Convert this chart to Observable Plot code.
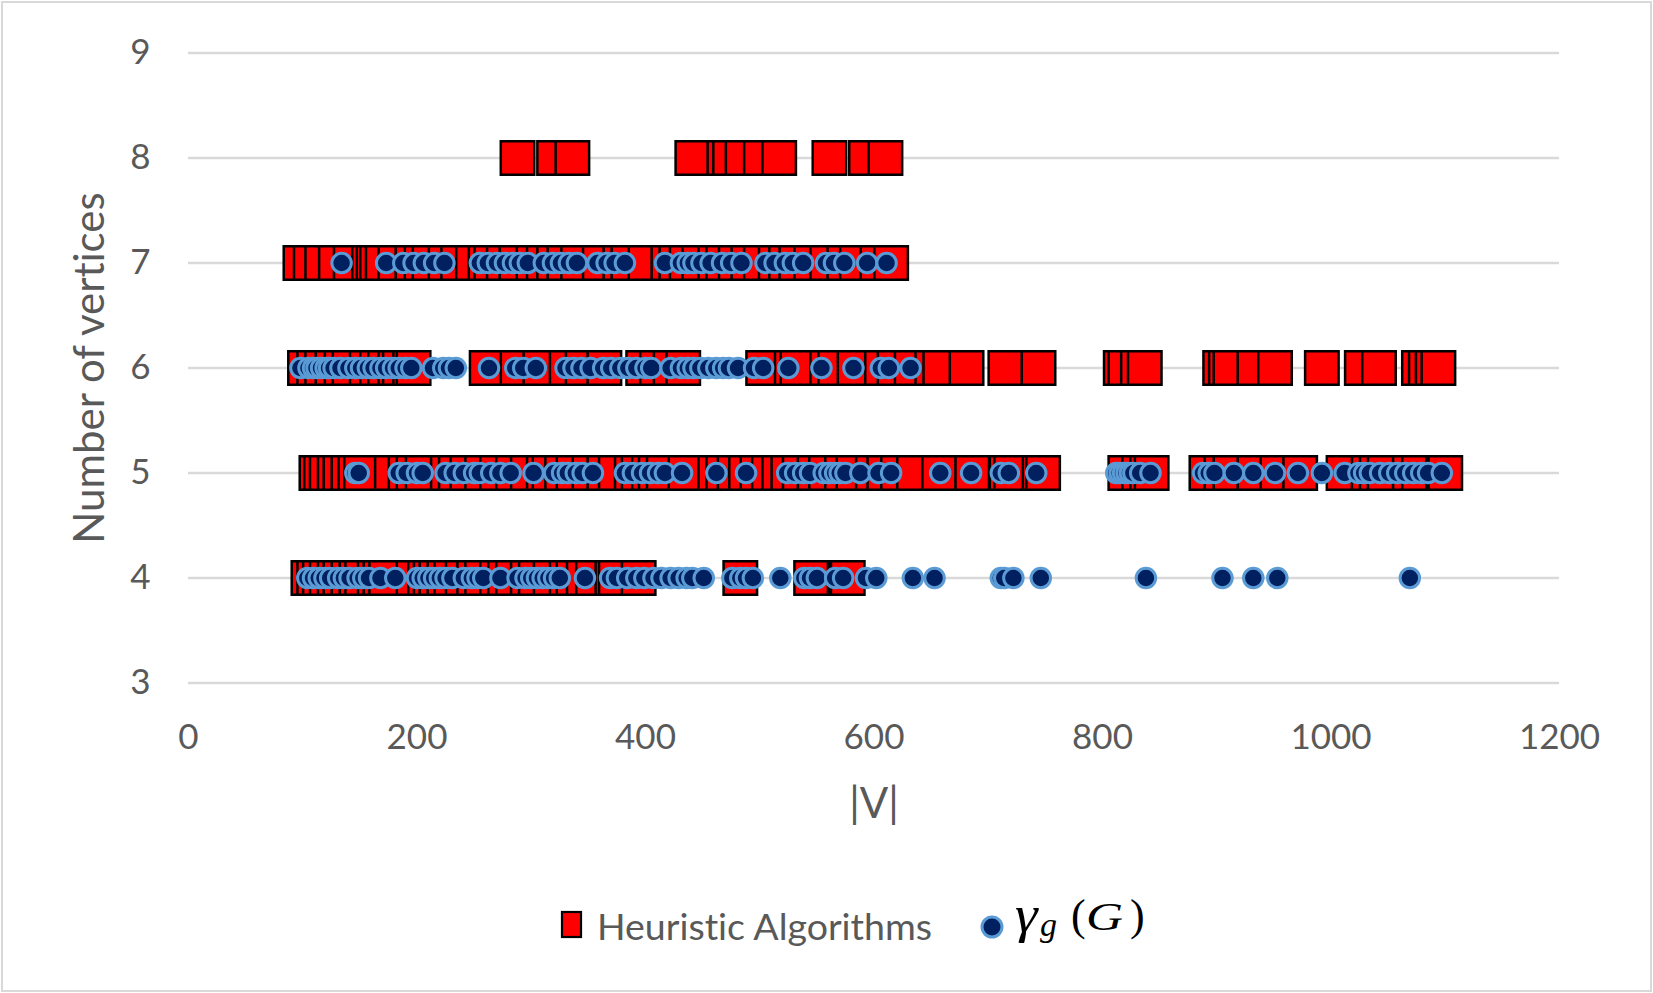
<!DOCTYPE html>
<html>
<head>
<meta charset="utf-8">
<script src="https://cdn.jsdelivr.net/npm/d3@7"></script>
<script src="https://cdn.jsdelivr.net/npm/@observablehq/plot@0.6"></script>
<style>
  html, body { margin: 0; padding: 0; background: #fff; }
  #wrap { position: relative; width: 1653px; height: 993px; background: #fff; overflow: hidden; }
  #border { position: absolute; left: 1px; top: 1px; width: 1647px; height: 987px; border: 2px solid #d9d9d9; }
  #chart { position: absolute; left: 0; top: 0; }
  #legend { position: absolute; left: 0; top: 880px; }
  svg text { font-variant-ligatures: none; font-feature-settings: "liga" 0; }
</style>
</head>
<body>
<div id="wrap">
  <div id="border"></div>
  <div id="chart"></div>
  <svg id="legend" width="1653" height="100" xmlns="http://www.w3.org/2000/svg">
    <rect x="562" y="32" width="19" height="25" fill="#ff0000" stroke="#000" stroke-width="2.2"></rect>
    <text x="597" y="45" dominant-baseline="central" font-family="Lato" font-size="37.5" fill="#595959">Heuristic Algorithms</text>
    <circle cx="992" cy="47" r="10" fill="#002060" stroke="#5b9bd5" stroke-width="3"></circle>
    <text transform="translate(1015,52) scale(1.1,1)" x="0" y="0" font-family="Liberation Serif" font-style="italic" font-size="52" fill="#000">γ</text>
    <text x="1040" y="56" font-family="Liberation Serif" font-style="italic" font-size="34" fill="#000">g</text>
    <text x="1071" y="50" font-family="Liberation Serif" font-size="44" fill="#000">(</text>
    <text transform="translate(1086,50) scale(1.25,1)" x="0" y="0" font-family="Liberation Serif" font-style="italic" font-size="41" fill="#000">G</text>
    <text x="1130" y="50" font-family="Liberation Serif" font-size="44" fill="#000">)</text>
  </svg>
</div>
<script>
// Axis ticks and titles
const xTicks = [0, 200, 400, 600, 800, 1000, 1200];
const yTicks = [3, 4, 5, 6, 7, 8, 9];
const xTitle = "|V|";
const yTitle = "Number of vertices";

// Heuristic Algorithms (red squares): |V| values per number-of-vertices row
const sq8 = [288, 320, 336, 441, 469, 474, 485, 501, 517, 561, 593, 610];
const sq7 = [98, 107, 117, 129, 142, 158, 162, 165, 170, 181, 196, 204, 211, 225, 236, 249, 260, 265, 276, 287, 302, 311, 320, 329, 341, 360, 378, 385, 400, 420, 427, 436, 447, 461, 468, 479, 490, 501, 514, 523, 532, 545, 559, 574, 585, 603, 615];
const sq6 = [102, 110, 117, 126, 134, 141, 156, 165, 172, 181, 185, 194, 197, 261, 288, 308, 331, 345, 364, 398, 410, 422, 433, 503, 528, 533, 559, 566, 583, 607, 618, 633, 651, 658, 681, 715, 744, 816, 820, 831, 837, 903, 908, 912, 933, 951, 992, 1027, 1042, 1077, 1083, 1089, 1094];
const sq5 = [112, 116, 121, 128, 133, 140, 146, 151, 178, 190, 197, 205, 227, 234, 244, 257, 270, 284, 297, 311, 316, 327, 337, 351, 364, 374, 388, 394, 403, 409, 416, 435, 461, 468, 478, 488, 498, 508, 517, 525, 535, 548, 558, 572, 582, 599, 609, 621, 635, 657, 686, 716, 720, 745, 748, 820, 832, 839, 843, 891, 904, 912, 933, 953, 973, 1011, 1033, 1040, 1047, 1069, 1077, 1098, 1100];
const sq4 = [105, 110, 115, 121, 128, 133, 140, 147, 152, 163, 168, 173, 197, 207, 212, 217, 224, 230, 240, 250, 257, 270, 277, 284, 297, 304, 317, 331, 337, 346, 354, 371, 374, 394, 483, 545, 575, 577];

// γ_g(G) (circles): |V| values per row
const c7 = [134, 173, 188, 197, 206, 215, 224, 255, 262, 270, 277, 284, 290, 297, 311, 319, 326, 333, 340, 358, 366, 373, 382, 417, 431, 437, 442, 449, 457, 467, 475, 484, 505, 513, 522, 529, 538, 558, 565, 574, 594, 611];
const c6 = [98, 105, 109, 112, 116, 120, 123, 127, 133, 140, 146, 151, 157, 162, 168, 173, 179, 184, 190, 195, 214, 223, 228, 234, 263, 286, 293, 304, 330, 337, 344, 352, 363, 370, 378, 385, 392, 400, 405, 422, 431, 437, 442, 448, 455, 462, 468, 473, 481, 495, 503, 525, 554, 582, 606, 613, 632];
const c5 = [146, 149, 184, 191, 200, 205, 225, 233, 241, 250, 255, 265, 273, 282, 302, 320, 327, 332, 339, 345, 354, 382, 389, 397, 404, 411, 417, 432, 462, 488, 524, 531, 538, 544, 556, 561, 566, 570, 575, 588, 604, 615, 658, 685, 711, 718, 742, 812, 815, 818, 821, 824, 827, 833, 842, 888, 893, 898, 915, 932, 951, 971, 992, 1012, 1024, 1029, 1034, 1043, 1051, 1058, 1065, 1072, 1079, 1085, 1097];
const c4 = [104, 109, 114, 119, 124, 131, 136, 141, 148, 153, 158, 168, 181, 200, 205, 210, 215, 220, 225, 231, 241, 248, 253, 258, 273, 288, 295, 300, 305, 310, 315, 320, 325, 347, 369, 375, 384, 392, 399, 407, 414, 422, 429, 436, 441, 451, 476, 483, 488, 494, 518, 539, 544, 550, 566, 573, 593, 602, 634, 653, 711, 714, 722, 746, 838, 905, 932, 953, 1069];

const squares = [
  ...sq4.map(v => ({v, k: 4})),
  ...sq5.map(v => ({v, k: 5})),
  ...sq6.map(v => ({v, k: 6})),
  ...sq7.map(v => ({v, k: 7})),
  ...sq8.map(v => ({v, k: 8}))
];
const circles = [
  ...c4.map(v => ({v, k: 4})),
  ...c5.map(v => ({v, k: 5})),
  ...c6.map(v => ({v, k: 6})),
  ...c7.map(v => ({v, k: 7}))
];

const plain = d => String(d);

const chart = Plot.plot({
  width: 1653,
  height: 860,
  marginLeft: 188,
  marginRight: 94,
  marginTop: 52.5,
  marginBottom: 177.5,
  x: {domain: [0, 1200]},
  y: {domain: [3, 9]},
  style: {fontFamily: "Lato", color: "#595959", background: "transparent", overflow: "visible"},
  marks: [
    Plot.gridY(yTicks, {stroke: "#d9d9d9", strokeOpacity: 1, strokeWidth: 2.5}),
    Plot.axisY(yTicks, {tickSize: 0, tickPadding: 38, fontSize: 35, label: null, fill: "#595959", tickFormat: plain}),
    Plot.axisX(xTicks, {tickSize: 0, tickPadding: 41, fontSize: 35, label: null, fill: "#595959", tickFormat: plain}),
    Plot.text([yTitle], {frameAnchor: "left", textAnchor: "middle", lineAnchor: "middle", dx: -98, rotate: -90, fontSize: 42, fill: "#595959"}),
    Plot.text([xTitle], {frameAnchor: "bottom", textAnchor: "middle", lineAnchor: "middle", dy: 121.5, fontSize: 42, fill: "#595959"}),
    Plot.dot(squares, {x: "v", y: "k", symbol: "square", r: 18.9, fill: "#ff0000", stroke: "#000", strokeWidth: 2.5}),
    Plot.dot(circles, {x: "v", y: "k", r: 9.75, fill: "#002060", stroke: "#5b9bd5", strokeWidth: 3})
  ]
});
document.getElementById("chart").appendChild(chart);
</script>
</body>
</html>
